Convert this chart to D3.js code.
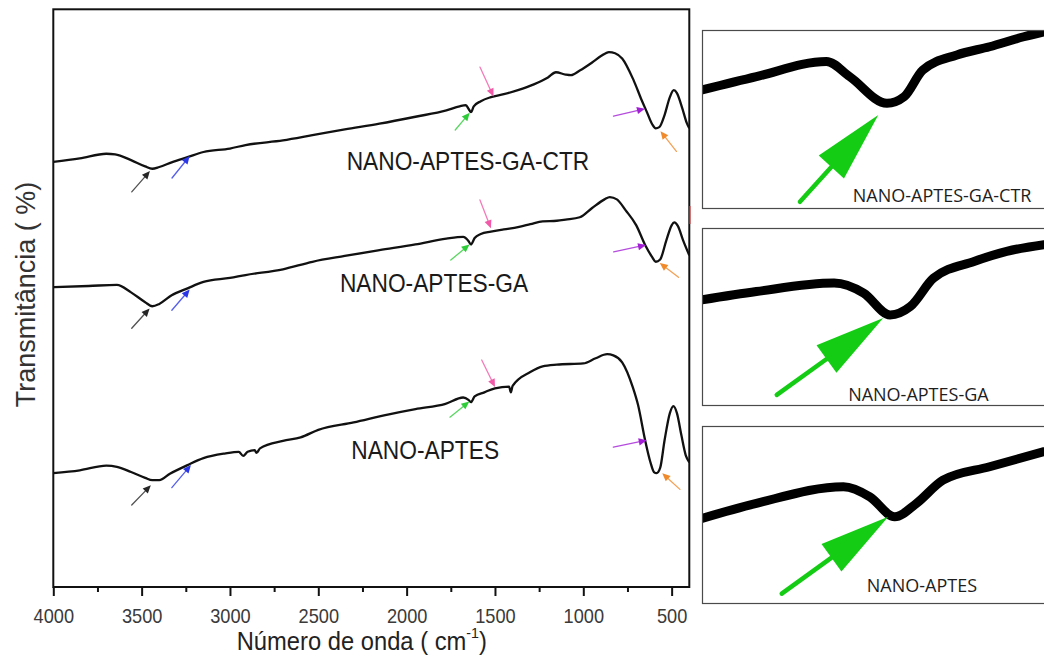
<!DOCTYPE html>
<html>
<head>
<meta charset="utf-8">
<script src="https://cdn.jsdelivr.net/npm/d3@7"></script>
<style>
  html, body { margin: 0; padding: 0; background: #fff; }
  svg { display: block; }
</style>
</head>
<body>
<svg id="chart" width="1044" height="655"></svg>
<script>
// ---------- FTIR spectra (wavenumber in cm-1, transmittance in arbitrary offset units) ----------
const ctrWavenumber = [4000,3850,3700,3650,3560,3480,3440,3400,3330,3240,3150,3000,2912,2700,2533,2350,2154,1950,1775,1700,1665,1648,1636,1620,1580,1523,1450,1370,1280,1200,1155,1100,1070,1020,950,900,855,820,780,715,670,640,610,590,570,540,510,488,470,440,414,400];
const ctrTransmittance = [73.6,74.2,75.0,74.9,73.9,72.8,72.4,72.7,73.5,74.4,75.3,75.9,76.5,77.3,78.2,79.2,80.2,81.4,82.5,83.2,83.4,82.7,82.2,83.2,84.1,84.8,85.3,86.0,87.0,88.2,89.1,88.7,88.6,89.4,90.8,91.9,92.6,92.4,91.5,87.7,84.3,82.2,80.1,79.4,79.6,81.7,84.8,86.0,85.5,82.9,80.3,79.4];

const gaWavenumber = [4000,3800,3640,3560,3480,3440,3400,3330,3240,3150,3000,2912,2700,2533,2350,2154,1950,1775,1680,1650,1636,1615,1580,1523,1450,1370,1300,1230,1150,1100,1020,950,880,850,810,760,700,650,610,590,565,530,500,485,465,435,400];
const gaTransmittance = [51.9,52.1,52.3,51.0,49.3,48.6,49.0,50.5,51.7,52.8,53.5,54.0,55.0,56.3,57.3,58.3,59.3,60.3,60.6,59.9,59.3,60.4,61.1,61.5,61.9,62.3,62.8,63.3,63.4,63.6,64.0,65.6,67.1,67.5,67.1,65.2,62.6,59.2,57.1,56.3,56.7,60.0,62.6,63.1,62.5,60.0,57.4];

const aptesWavenumber = [4000,3850,3700,3640,3560,3480,3440,3400,3340,3240,3150,3030,2950,2925,2900,2860,2850,2830,2700,2600,2500,2300,2100,1950,1780,1680,1650,1636,1615,1560,1500,1420,1410,1400,1300,1230,1150,1000,930,865,830,780,720,690,650,620,600,585,565,540,510,490,470,445,420,400];
const aptesTransmittance = [19.7,20.2,21.0,20.8,19.9,18.9,18.5,18.5,19.6,21.1,22.3,23.1,23.4,22.7,23.4,23.7,23.2,24.0,25.3,25.9,27.2,28.5,29.9,30.8,31.7,32.8,32.4,32.0,33.0,33.7,34.4,34.7,33.7,34.8,37.2,38.2,38.5,38.7,39.6,40.3,40.1,38.9,34.6,31.5,25.4,21.6,19.9,19.7,20.6,25.4,30.1,31.3,30.1,26.3,22.8,21.6];

const seriesNames = ["NANO-APTES-GA-CTR", "NANO-APTES-GA", "NANO-APTES"];
// label centre of each spectrum, in data units [wavenumber, transmittance]
const seriesLabelAt = [[1653, 73.7], [1845, 52.6], [1895, 23.7]];

// x axis ticks
const majorTicks = [4000,3500,3000,2500,2000,1500,1000,500];
const minorTicks = [3750,3250,2750,2250,1750,1250,750];

// band markers: [series index, colour, tail [wn, T], tip [wn, T]]
const bandArrows = [
  [0, "#262626", [3556, 68.4], [3453, 72.0]],
  [0, "#2b36e6", [3328, 70.8], [3228, 74.6]],
  [0, "#2fcc3a", [1725, 79.1], [1643, 82.1]],
  [0, "#f05aa8", [1585, 90.0], [1508, 84.9]],
  [0, "#a21fd6", [829, 81.5], [651, 82.8]],
  [0, "#f08a2a", [473, 75.4], [563, 78.9]],
  [1, "#262626", [3556, 44.8], [3455, 48.2]],
  [1, "#2b36e6", [3329, 47.9], [3228, 51.5]],
  [1, "#2fcc3a", [1750, 56.6], [1644, 59.3]],
  [1, "#f05aa8", [1585, 67.0], [1523, 62.1]],
  [1, "#a21fd6", [828, 58.0], [645, 59.2]],
  [1, "#f08a2a", [461, 53.6], [567, 56.1]],
  [2, "#262626", [3556, 14.2], [3448, 17.6]],
  [2, "#2b36e6", [3329, 17.2], [3221, 21.1]],
  [2, "#2fcc3a", [1755, 29.4], [1645, 32.1]],
  [2, "#f05aa8", [1575, 39.3], [1500, 34.6]],
  [2, "#a21fd6", [830, 24.2], [641, 25.4]],
  [2, "#f08a2a", [453, 16.9], [553, 19.7]]
];

// ---------- enlarged C=O / N-H region (1760-1540 cm-1) ----------
const insetWavenumber1 = [1760,1725,1680,1665,1641,1630,1618,1596,1575,1553,1540];
const insetValue1 = [66.3,73.8,82.3,73.8,58.8,62.5,77.5,86.0,90.6,96.2,99.0];
const insetWavenumber2 = [1760,1725,1675,1656,1639,1626,1611,1585,1564,1540];
const insetValue2 = [59.4,64.1,68.9,63.2,50.9,55.6,71.7,81.1,86.8,90.6];
const insetWavenumber3 = [1760,1725,1669,1652,1636,1622,1605,1575,1540];
const insetValue3 = [47.8,56.3,65.7,60.0,48.7,56.3,69.4,77.0,85.5];
// green pointer in each panel: tail and tip [wn, value]
const insetPointers = [
  [[1697, 3.5], [1646.6, 52.2]],
  [[1711.9, 5.7], [1643.4, 49.1]],
  [[1708.7, 5.3], [1640.2, 48.7]]
];
// panel caption start [wn, value]
const insetCaptionAt = [[1663, 3.5], [1666, 2.5], [1654, 6.2]];

// ---------- layout ----------
const W = 1044, H = 655;
const plot = { left: 53.3, right: 689.3, top: 9.3, bottom: 587 };
const panels = [
  { left: 702, right: 1050, top: 30, bottom: 208 },
  { left: 702, right: 1050, top: 228, bottom: 405 },
  { left: 702, right: 1050, top: 426, bottom: 603 }
];
const squeeze = 0.91;

const svg = d3.select("#chart");
svg.append("rect").attr("width", W).attr("height", H).attr("fill", "#fff");

const x = d3.scaleLinear().domain([4000, 400]).range([plot.left, plot.right]);
const y = d3.scaleLinear().domain([0, 100]).range([plot.bottom, plot.top]);

// spectra
const spectra = [
  d3.zip(ctrWavenumber, ctrTransmittance),
  d3.zip(gaWavenumber, gaTransmittance),
  d3.zip(aptesWavenumber, aptesTransmittance)
];
const line = d3.line().x(d => x(d[0])).y(d => y(d[1])).curve(d3.curveMonotoneX);

svg.append("clipPath").attr("id", "plotClip")
  .append("rect").attr("x", plot.left).attr("y", plot.top)
  .attr("width", plot.right - plot.left).attr("height", plot.bottom - plot.top);

const gSpec = svg.append("g").attr("clip-path", "url(#plotClip)");
gSpec.selectAll("path.spec").data(spectra).join("path")
  .attr("class", "spec")
  .attr("d", line)
  .attr("fill", "none")
  .attr("stroke", "#111")
  .attr("stroke-width", 2.3)
  .attr("stroke-linejoin", "round");

// frame
svg.append("rect")
  .attr("x", plot.left).attr("y", plot.top)
  .attr("width", plot.right - plot.left).attr("height", plot.bottom - plot.top)
  .attr("fill", "none").attr("stroke", "#111").attr("stroke-width", 2);

// x axis
const axisMajor = d3.axisBottom(x).tickValues(majorTicks).tickSize(9).tickPadding(13).tickFormat(d3.format("d"));
const gx = svg.append("g").attr("transform", `translate(0,${plot.bottom})`).call(axisMajor);
gx.select(".domain").remove();
gx.selectAll(".tick line").attr("stroke", "#111").attr("stroke-width", 2);
gx.selectAll(".tick text")
  .attr("font-family", "'Liberation Sans', Arial, sans-serif")
  .attr("font-size", 20).attr("fill", "#3a3a3a")
  .attr("transform", `scale(${squeeze},1)`);

const axisMinor = d3.axisBottom(x).tickValues(minorTicks).tickSize(5).tickFormat("");
const gxm = svg.append("g").attr("transform", `translate(0,${plot.bottom})`).call(axisMinor);
gxm.select(".domain").remove();
gxm.selectAll(".tick line").attr("stroke", "#111").attr("stroke-width", 2);

// axis titles
const xTitle = svg.append("g").attr("transform", `translate(236.7,650) scale(0.95,1)`)
  .append("text")
  .attr("font-family", "'Liberation Sans', Arial, sans-serif")
  .attr("font-size", 25).attr("fill", "#222");
xTitle.append("tspan").text("Número de onda  ( cm");
xTitle.append("tspan").attr("font-size", 15).attr("dy", -12).text("-1");
xTitle.append("tspan").attr("dy", 12).text(")");

svg.append("g").attr("transform", `translate(34.5,294.5) rotate(-90)`)
  .append("text")
  .attr("text-anchor", "middle")
  .attr("font-family", "'Liberation Sans', Arial, sans-serif")
  .attr("font-size", 27).attr("fill", "#333")
  .text("Transmitância  ( %)");

// spectrum names
seriesNames.forEach((name, i) => {
  const [wn, t] = seriesLabelAt[i];
  svg.append("g").attr("transform", `translate(${x(wn)},${y(t)}) scale(${squeeze},1)`)
    .append("text")
    .attr("text-anchor", "middle")
    .attr("dy", "0.36em")
    .attr("font-family", "'Liberation Sans', Arial, sans-serif")
    .attr("font-size", 25).attr("fill", "#1a1a1a")
    .text(name);
});

// arrow helper: shaft plus filled triangular head
function drawArrow(g, x1, y1, x2, y2, color, headLen, headHalf, shaftW, shaftOpacity) {
  const dx = x2 - x1, dy = y2 - y1, L = Math.hypot(dx, dy);
  const ux = dx / L, uy = dy / L, px = -uy, py = ux;
  const bx = x2 - ux * headLen, by = y2 - uy * headLen;
  g.append("line")
    .attr("x1", x1).attr("y1", y1).attr("x2", bx + ux * 1).attr("y2", by + uy * 1)
    .attr("stroke", color).attr("stroke-width", shaftW)
    .attr("stroke-opacity", shaftOpacity).attr("stroke-linecap", "round");
  g.append("path")
    .attr("d", `M${x2},${y2}L${bx + px * headHalf},${by + py * headHalf}L${bx - px * headHalf},${by - py * headHalf}Z`)
    .attr("fill", color);
}

const gArrows = svg.append("g");
bandArrows.forEach(([, color, tail, tip]) => {
  drawArrow(gArrows, x(tail[0]), y(tail[1]), x(tip[0]), y(tip[1]), color, 8, 3.6, 1.3, 0.8);
});

// small red stroke at the right edge of the frame
svg.append("line").attr("x1", 690).attr("x2", 690).attr("y1", 206).attr("y2", 224)
  .attr("stroke", "#e04848").attr("stroke-width", 2).attr("stroke-opacity", 0.6);

// ---------- enlarged panels ----------
const insetData = [
  d3.zip(insetWavenumber1, insetValue1),
  d3.zip(insetWavenumber2, insetValue2),
  d3.zip(insetWavenumber3, insetValue3)
];

panels.forEach((p, i) => {
  const ix = d3.scaleLinear().domain([1760, 1540]).range([p.left, 1044]);
  const iy = d3.scaleLinear().domain([0, 100]).range([p.bottom, p.top]);
  const clipId = `panelClip${i}`;
  svg.append("clipPath").attr("id", clipId)
    .append("rect").attr("x", p.left).attr("y", p.top)
    .attr("width", p.right - p.left).attr("height", p.bottom - p.top);

  const g = svg.append("g");
  g.append("rect").attr("x", p.left).attr("y", p.top)
    .attr("width", p.right - p.left).attr("height", p.bottom - p.top)
    .attr("fill", "#fff");

  const iline = d3.line().x(d => ix(d[0])).y(d => iy(d[1])).curve(d3.curveMonotoneX);
  g.append("path")
    .datum(insetData[i])
    .attr("clip-path", `url(#${clipId})`)
    .attr("d", iline)
    .attr("fill", "none").attr("stroke", "#000")
    .attr("stroke-width", 9).attr("stroke-linejoin", "round").attr("stroke-linecap", "round");

  const [tail, tip] = insetPointers[i];
  drawArrow(g, ix(tail[0]), iy(tail[1]), ix(tip[0]), iy(tip[1]), "#13cc13", 70, 17, 4.5, 1);

  const [cw, cv] = insetCaptionAt[i];
  g.append("text")
    .attr("x", ix(cw)).attr("y", iy(cv))
    .attr("font-family", "'Open Sans', 'Noto Sans', sans-serif")
    .attr("font-size", 18).attr("fill", "#1e1e1e")
    .text(seriesNames[i]);

  g.append("rect").attr("x", p.left + 0.5).attr("y", p.top + 0.5)
    .attr("width", p.right - p.left).attr("height", p.bottom - p.top)
    .attr("fill", "none").attr("stroke", "#4a4a4a").attr("stroke-width", 1.2);
});
</script>
</body>
</html>
